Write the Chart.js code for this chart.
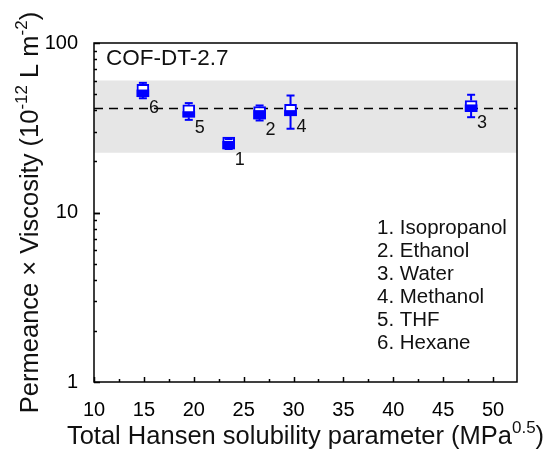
<!DOCTYPE html>
<html>
<head>
<meta charset="utf-8">
<script src="https://cdn.jsdelivr.net/npm/chart.js@4/dist/chart.umd.min.js"></script>
<style>
  html, body { margin: 0; padding: 0; background: #ffffff; }
  #wrap { width: 549px; height: 455px; position: relative; }
</style>
</head>
<body>
<div id="wrap"><canvas id="chart" width="549" height="455"></canvas></div>
<script>
// Solvents, numbered 1..6 as in the legend
const solvents = ['Isopropanol', 'Ethanol', 'Water', 'Methanol', 'THF', 'Hexane'];
// Total Hansen solubility parameter of each solvent (MPa^0.5)
const hansen = [23.5, 26.6, 47.8, 29.7, 19.5, 14.9];
// Box statistics of permeance x viscosity (10^-12 L m^-2)
const whiskerHigh = [27.1, 42.8, 49.5, 49.0, 44.2, 58.2];
const boxHigh     = [27.9, 42.2, 45.8, 43.4, 43.2, 57.1];
const boxMid      = [26.3, 40.0, 43.2, 40.0, 39.4, 52.9];
const boxLow      = [23.7, 35.6, 39.4, 37.2, 36.5, 48.2];
const whiskerLow  = [23.7, 34.9, 36.5, 31.2, 35.2, 47.2];
// Average level and its spread band
const meanLevel = 41.1;
const bandLow = 22.5;
const bandHigh = 60;
// Axis ranges and tick labels
const xMin = 10, xMax = 52.4;
const xTicks = [10, 15, 20, 25, 30, 35, 40, 45, 50];
const yTicks = [1, 10, 100];
const sampleName = 'COF-DT-2.7';

const BLUE = '#0000ff';
const FONT = "'Liberation Sans', Arial, Helvetica, sans-serif";

const whiskerData = [];
hansen.forEach((x, i) => {
  whiskerData.push({x: x, y: boxHigh[i]});
  whiskerData.push({x: x, y: whiskerHigh[i], cap: true});
  whiskerData.push({x: x, y: null});
  whiskerData.push({x: x, y: boxLow[i]});
  whiskerData.push({x: x, y: whiskerLow[i], cap: true});
  whiskerData.push({x: x, y: null});
});

// Inward ticks, frame, annotations, legend and axis titles
const decorations = {
  id: 'decorations',
  afterDatasetsDraw(chart) {
    const {ctx, chartArea: a, scales: {x, y}} = chart;
    ctx.save();
    ctx.strokeStyle = '#000';
    ctx.lineWidth = 1.5;
    // bottom axis ticks
    for (let v = xMin; v <= xMax; v += 2.5) {
      const px = Math.round(x.getPixelForValue(v)) + 0.5;
      const major = Math.abs(v % 5) < 1e-6;
      ctx.beginPath();
      ctx.moveTo(px, a.bottom);
      ctx.lineTo(px, a.bottom - (major ? 5 : 3));
      ctx.stroke();
    }
    // left axis ticks (log)
    for (let d = 1; d < 100; d *= 10) {
      for (let m = 1; m <= 10; m++) {
        const v = d * m;
        const py = Math.round(y.getPixelForValue(v)) + 0.5;
        const major = (m === 1 || m === 10);
        ctx.beginPath();
        ctx.moveTo(a.left, py);
        ctx.lineTo(a.left + (major ? 6 : 3), py);
        ctx.stroke();
      }
    }
    // frame
    ctx.strokeRect(a.left, a.top, a.right - a.left, a.bottom - a.top);

    // solvent numbers beside each box
    ctx.fillStyle = '#111';
    ctx.font = '18px ' + FONT;
    ctx.textAlign = 'center';
    ctx.textBaseline = 'middle';
    hansen.forEach((v, i) => {
      const px = x.getPixelForValue(v);
      const py = y.getPixelForValue(boxLow[i]);
      ctx.fillText(String(i + 1), px + 11, py + 11);
    });

    // sample name
    ctx.textAlign = 'left';
    ctx.font = '22.5px ' + FONT;
    ctx.fillText(sampleName, a.left + 12, a.top + 16);

    // solvent key
    ctx.font = '20.5px ' + FONT;
    solvents.forEach((s, i) => {
      ctx.fillText((i + 1) + '. ' + s, 377, 228 + i * 23);
    });

    // x title with superscript, centred on the axis
    const big = '25.5px ' + FONT, small = '17px ' + FONT;
    const xt = 'Total Hansen solubility parameter (MPa';
    ctx.font = big; const w1 = ctx.measureText(xt).width; const w3 = ctx.measureText(')').width;
    ctx.font = small; const w2 = ctx.measureText('0.5').width;
    let sx = (a.left + a.right) / 2 - (w1 + w2 + w3) / 2;
    const by = 444;
    ctx.textBaseline = 'alphabetic';
    ctx.font = big; ctx.fillText(xt, sx, by); sx += w1;
    ctx.font = small; ctx.fillText('0.5', sx, by - 11); sx += w2;
    ctx.font = big; ctx.fillText(')', sx, by);

    // y title with superscripts, rotated and centred on the axis
    ctx.save();
    ctx.translate(38, (a.top + a.bottom) / 2);
    ctx.rotate(-Math.PI / 2);
    const parts = [['Permeance \u00d7 Viscosity (10', false], ['-12', true], [' L m', false], ['-2', true], [')', false]];
    let total = 0;
    parts.forEach(p => { ctx.font = p[1] ? small : big; total += ctx.measureText(p[0]).width; });
    let cx = -total / 2;
    parts.forEach(p => {
      ctx.font = p[1] ? small : big;
      ctx.fillText(p[0], cx, p[1] ? -11 : 0);
      cx += ctx.measureText(p[0]).width;
    });
    ctx.restore();
    ctx.restore();
  }
};

new Chart(document.getElementById('chart'), {
  type: 'bar',
  data: {
    datasets: [
      { type: 'line', data: [{x: xMin, y: bandLow}, {x: xMax, y: bandLow}], borderWidth: 0, pointRadius: 0, order: 10 },
      { type: 'line', data: [{x: xMin, y: bandHigh}, {x: xMax, y: bandHigh}], borderWidth: 0, pointRadius: 0,
        fill: '-1', backgroundColor: '#e6e6e6', order: 10 },
      { type: 'line', data: [{x: xMin, y: meanLevel}, {x: xMax, y: meanLevel}], borderColor: '#000', borderWidth: 1.5,
        borderDash: [9, 6], pointRadius: 0, order: 9 },
      { type: 'bar', data: hansen.map((v, i) => ({x: v, y: [boxLow[i], boxHigh[i]]})), backgroundColor: '#ffffff',
        borderColor: BLUE, borderWidth: 2, borderSkipped: false, barThickness: 12, grouped: false, order: 3 },
      { type: 'bar', data: hansen.map((v, i) => ({x: v, y: [boxLow[i], boxMid[i]]})), backgroundColor: BLUE,
        borderColor: BLUE, borderWidth: 0, borderSkipped: false, barThickness: 12, grouped: false, order: 2 },
      { type: 'line', data: whiskerData, borderColor: BLUE, borderWidth: 2, spanGaps: false,
        pointStyle: 'line', pointBorderColor: BLUE, pointBorderWidth: 2,
        pointRadius: c => (c.raw && c.raw.cap ? 4 : 0), order: 1 }
    ]
  },
  options: {
    responsive: false,
    animation: false,
    layout: { padding: { left: 0, right: 32, top: 43, bottom: 0 } },
    plugins: { legend: { display: false }, tooltip: { enabled: false } },
    scales: {
      x: {
        type: 'linear', min: xMin, max: xMax, offset: false,
        grid: { display: false }, border: { display: false },
        afterBuildTicks: s => { s.ticks = xTicks.map(v => ({value: v})); },
        afterFit: s => { s.height = 73; },
        ticks: { color: '#000', font: { family: FONT, size: 20 }, padding: 8, maxRotation: 0,
                 callback: v => String(v) }
      },
      y: {
        type: 'logarithmic', min: 1, max: 100,
        grid: { display: false }, border: { display: false },
        afterBuildTicks: s => { s.ticks = yTicks.map(v => ({value: v})); },
        afterFit: s => { s.width = 94; },
        ticks: { color: '#000', font: { family: FONT, size: 20 }, padding: 8,
                 callback: v => String(v) }
      }
    }
  },
  plugins: [decorations]
});
</script>
</body>
</html>
